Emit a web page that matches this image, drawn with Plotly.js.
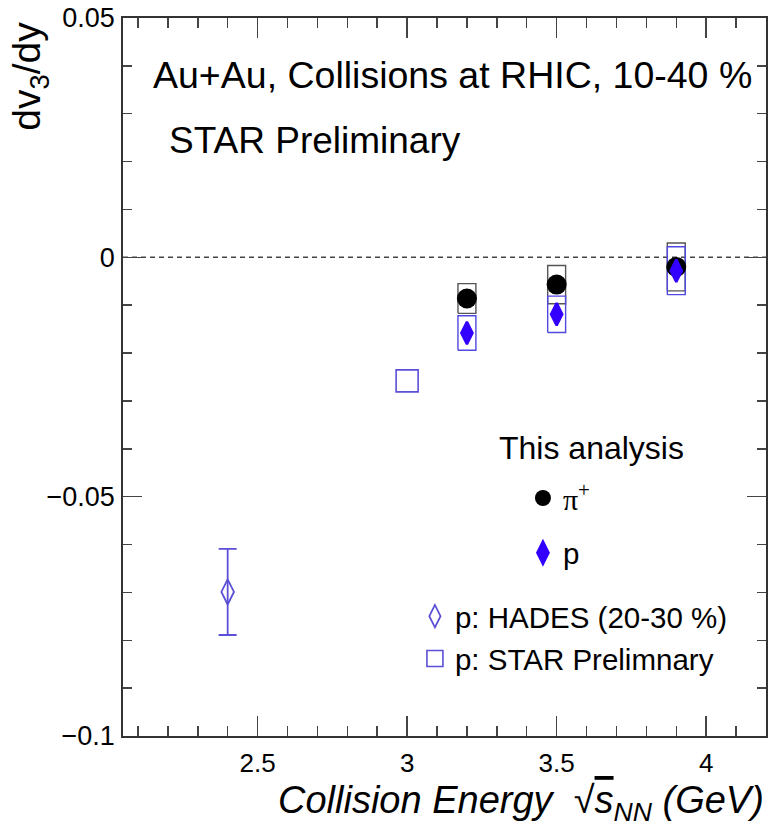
<!DOCTYPE html>
<html>
<head>
<meta charset="utf-8">
<script src="https://cdn.plot.ly/plotly-3.0.1.min.js"></script>
<style>html,body{margin:0;padding:0;background:#fff;}#chart{width:776px;height:832px;}</style>
</head>
<body>
<div id="chart"></div>
<script>
// ---- data ----
const piEnergy = [3.2, 3.5, 3.9];
const piDv3 = [-0.0086, -0.0057, -0.0020];
const piSys = [0.0031, 0.0040, 0.0050];

const pEnergy = [3.2, 3.5, 3.9];
const pDv3 = [-0.0158, -0.0119, -0.0028];
const pSys = [0.0036, 0.0038, 0.0050];

const hadesEnergy = [2.4];
const hadesDv3 = [-0.0699];
const hadesErr = [0.0090];

const starPrelimEnergy = [3.0];
const starPrelimDv3 = [-0.0258];

const xTickVals = [2.5, 3, 3.5, 4];
const xTickText = ['2.5', '3', '3.5', '4'];
const yTickVals = [-0.1, -0.05, 0, 0.05];
const yTickText = ['\u22120.1', '\u22120.05', '0', '0.05'];

// ---- helpers ----
const BOX_HALF = 0.03;
function boxPath(xs, ys, ss) {
  const bx = [], by = [];
  for (let i = 0; i < xs.length; i++) {
    const x0 = xs[i] - BOX_HALF, x1 = xs[i] + BOX_HALF;
    const y0 = ys[i] - ss[i], y1 = ys[i] + ss[i];
    bx.push(x0, x1, x1, x0, x0, null);
    by.push(y0, y0, y1, y1, y0, null);
  }
  return {x: bx, y: by};
}

const BLUE = '#3300ff';
const OPEN_BLUE = '#5a4fd6';
const FONT = 'Liberation Sans, Arial, Helvetica, sans-serif';

const piBox = boxPath(piEnergy, piDv3, piSys);
const pBox = boxPath(pEnergy, pDv3, pSys);

const traces = [
  {x: piBox.x, y: piBox.y, type: 'scatter', mode: 'lines',
   line: {color: '#555555', width: 1.4}, showlegend: false, hoverinfo: 'skip'},
  {x: pBox.x, y: pBox.y, type: 'scatter', mode: 'lines',
   line: {color: '#5048e0', width: 1.4}, showlegend: false, hoverinfo: 'skip'},
  {x: piEnergy, y: piDv3, type: 'scatter', mode: 'markers', name: '\u03c0<sup>+</sup>',
   marker: {symbol: 'circle', size: 20, color: '#000000'}, legend: 'legend'},
  {x: pEnergy, y: pDv3, type: 'scatter', mode: 'markers', name: 'p',
   marker: {symbol: 'diamond-tall', size: 16, color: BLUE, line: {color: BLUE, width: 2.5}}, legend: 'legend2'},
  {x: hadesEnergy, y: hadesDv3, type: 'scatter', mode: 'markers', name: 'p: HADES (20-30 %)',
   marker: {symbol: 'diamond-tall-open', size: 18, color: OPEN_BLUE, line: {width: 1.8}},
   error_y: {type: 'data', array: hadesErr, visible: true, color: OPEN_BLUE, thickness: 1.8, width: 9},
   legend: 'legend3'},
  {x: starPrelimEnergy, y: starPrelimDv3, type: 'scatter', mode: 'markers', name: 'p: STAR Prelimnary',
   marker: {symbol: 'square-open', size: 22, color: OPEN_BLUE, line: {width: 1.6}},
   legend: 'legend4'}
];

const legendBase = {
  xanchor: 'left', yanchor: 'middle', bgcolor: 'rgba(0,0,0,0)', borderwidth: 0,
  font: {family: FONT, size: 29.5, color: '#000'}
};

const layout = {
  width: 776, height: 832,
  margin: {l: 123, r: 10, t: 18, b: 96, pad: 0},
  paper_bgcolor: '#ffffff', plot_bgcolor: '#ffffff',
  xaxis: {
    range: [2.05, 4.2], tickmode: 'array', tickvals: xTickVals, ticktext: xTickText,
    ticks: 'inside', ticklen: 20, tickwidth: 1.5, tickcolor: '#444',
    showline: true, linecolor: '#333', linewidth: 1.8, mirror: 'allticks',
    showgrid: false, zeroline: false,
    tickfont: {family: FONT, size: 26, color: '#000'}, ticklabelstandoff: 3,
    minor: {dtick: 0.1, tick0: 0, ticks: 'inside', ticklen: 10, tickwidth: 1.5, tickcolor: '#444', showgrid: false}
  },
  yaxis: {
    range: [-0.1, 0.05], tickmode: 'array', tickvals: yTickVals, ticktext: yTickText,
    ticks: 'inside', ticklen: 19, tickwidth: 1.5, tickcolor: '#444',
    showline: true, linecolor: '#333', linewidth: 1.8, mirror: 'allticks',
    showgrid: false, zeroline: false,
    tickfont: {family: FONT, size: 27, color: '#000'}, ticklabelstandoff: 1,
    minor: {dtick: 0.01, tick0: 0, ticks: 'inside', ticklen: 9, tickwidth: 1.5, tickcolor: '#444', showgrid: false}
  },
  shapes: [
    {type: 'line', xref: 'paper', x0: 0, x1: 1, yref: 'y', y0: 0, y1: 0,
     line: {color: '#444', width: 1.5, dash: '5px,4px'}, layer: 'below'}
  ],
  legend: Object.assign({}, legendBase, {x: 0.622, y: 0.3315,
    font: {family: 'Liberation Serif, Times New Roman, serif', size: 30, color: '#000'}}),
  legend2: Object.assign({}, legendBase, {x: 0.622, y: 0.2549}),
  legend3: Object.assign({}, legendBase, {x: 0.454, y: 0.1665}),
  legend4: Object.assign({}, legendBase, {x: 0.454, y: 0.1075}),
  annotations: [
    {text: 'Au+Au, Collisions at RHIC, 10-40 %', xref: 'paper', yref: 'paper',
     x: 0.044, y: 0.9206, xanchor: 'left', yanchor: 'middle', showarrow: false,
     font: {family: FONT, size: 37.5, color: '#000'}},
    {text: 'STAR Preliminary', xref: 'paper', yref: 'paper',
     x: 0.069, y: 0.830, xanchor: 'left', yanchor: 'middle', showarrow: false,
     font: {family: FONT, size: 37, color: '#000'}},
    {text: 'This analysis', xref: 'paper', yref: 'paper',
     x: 0.5816, y: 0.4011, xanchor: 'left', yanchor: 'middle', showarrow: false,
     font: {family: FONT, size: 32, color: '#000'}},
    {text: 'dv<sub>3</sub>/dy', xref: 'paper', yref: 'paper', textangle: -90,
     x: -0.1446, y: 0.997, xanchor: 'center', yanchor: 'top', showarrow: false,
     font: {family: FONT, size: 39, color: '#000'}},
    {text: '<i>Collision Energy  \u221a<span style="text-decoration:overline">s</span><sub>NN</sub> (GeV)</i>',
     xref: 'paper', yref: 'paper', x: 1.0, y: -0.093, xanchor: 'right', yanchor: 'middle', showarrow: false,
     font: {family: FONT, size: 38, color: '#000'}}
  ]
};

Plotly.newPlot('chart', traces, layout, {displayModeBar: false, staticPlot: true});
</script>
</body>
</html>
